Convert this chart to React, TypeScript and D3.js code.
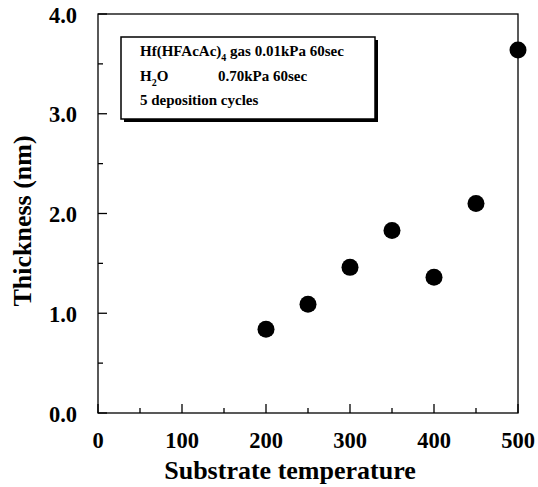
import React from "react";
import * as d3 from "d3";

const temperatures = [200, 250, 300, 350, 400, 450, 500];
const thickness = [0.84, 1.09, 1.46, 1.83, 1.36, 2.1, 3.64];
const xTicks = [0, 100, 200, 300, 400, 500];
const xMinor = [50, 150, 250, 350, 450];
const yTicks = [0, 1, 2, 3, 4];
const yMinor = [0.5, 1.5, 2.5, 3.5];

const W = 538, H = 487;
const m = { left: 98, right: 20, top: 14, bottom: 74 };
const font = "'Liberation Serif', 'Times New Roman', serif";

export default function App() {
  const x = d3.scaleLinear().domain([0, 500]).range([m.left, W - m.right]);
  const y = d3.scaleLinear().domain([0, 4]).range([H - m.bottom, m.top]);
  const x0 = x(0), x1 = x(500), y0 = y(0), y1 = y(4);
  return (
    <svg width={W} height={H} style={{ position: "absolute", left: 0, top: 0, background: "#fff" }} fontFamily={font} fontWeight="bold">
      <rect x={0} y={0} width={W} height={H} fill="#fff" />
      <rect x={x0} y={y1} width={x1 - x0} height={y0 - y1} fill="none" stroke="#000" strokeWidth={1.3} />
      {xTicks.map((t) => (
        <g key={"xt" + t}>
          <line x1={x(t)} x2={x(t)} y1={y0} y2={y0 - 9} stroke="#000" strokeWidth={1.3} />
          <text x={x(t)} y={448} fontSize={22.5} textAnchor="middle">{t}</text>
        </g>
      ))}
      {xMinor.map((t) => (
        <line key={"xm" + t} x1={x(t)} x2={x(t)} y1={y0} y2={y0 - 5} stroke="#000" strokeWidth={1.3} />
      ))}
      {yTicks.map((t) => (
        <g key={"yt" + t}>
          <line x1={x0} x2={x0 + 9} y1={y(t)} y2={y(t)} stroke="#000" strokeWidth={1.3} />
          <text x={x0 - 21} y={y(t) + 8.5} fontSize={22.5} textAnchor="end">{t.toFixed(1)}</text>
        </g>
      ))}
      {yMinor.map((t) => (
        <line key={"ym" + t} x1={x0} x2={x0 + 5} y1={y(t)} y2={y(t)} stroke="#000" strokeWidth={1.3} />
      ))}
      {temperatures.map((t, i) => (
        <circle key={"p" + t} cx={x(t)} cy={y(thickness[i])} r={8.5} fill="#000" />
      ))}
      <text x={290} y={479} fontSize={26} textAnchor="middle">Substrate temperature</text>
      <text transform={`translate(31, 221) rotate(-90)`} fontSize={26} textAnchor="middle">Thickness (nm)</text>
      <g>
        <rect x={124} y={40} width={254} height={82} fill="#000" />
        <rect x={121} y={37} width={254} height={82} fill="#fff" stroke="#000" strokeWidth={1.5} />
        <text x={140} y={56} fontSize={15}>
          Hf(HFAcAc)<tspan fontSize={10} dy={5}>4</tspan><tspan dy={-5}> gas 0.01kPa 60sec</tspan>
        </text>
        <text x={140} y={81} fontSize={15}>
          H<tspan fontSize={10} dy={5}>2</tspan><tspan dy={-5}>O</tspan>
        </text>
        <text x={218} y={81} fontSize={15}>0.70kPa 60sec</text>
        <text x={140} y={105} fontSize={15}>5 deposition cycles</text>
      </g>
    </svg>
  );
}
